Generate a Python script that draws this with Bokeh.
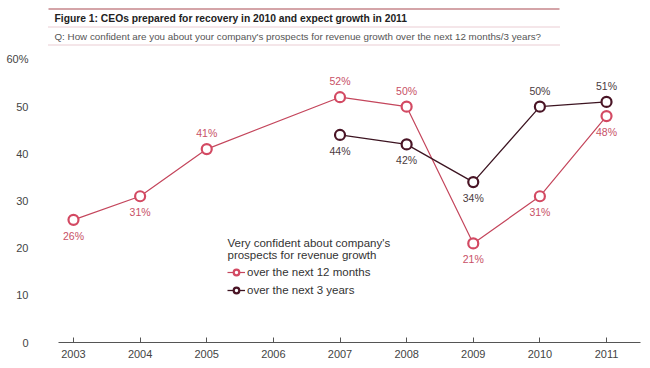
from bokeh.plotting import figure
from bokeh.models import (Range1d, FixedTicker, ColumnDataSource, Legend, LegendItem, Label)
from bokeh.core.properties import value
from bokeh.embed import file_html
from bokeh.resources import INLINE

# ---- data ----
title_text = "Figure 1: CEOs prepared for recovery in 2010 and expect growth in 2011"
question_text = "Q: How confident are you about your company's prospects for revenue growth over the next 12 months/3 years?"
legend_title = ["Very confident about company's", "prospects for revenue growth"]

years_12m = [2003, 2004, 2005, 2007, 2008, 2009, 2010, 2011]
values_12m = [26, 31, 41, 52, 50, 21, 31, 48]
place_12m = ["below", "below", "above", "above", "above", "below", "below", "below"]

years_3y = [2007, 2008, 2009, 2010, 2011]
values_3y = [44, 42, 34, 50, 51]
place_3y = ["below", "below", "below", "above", "above"]

x_ticks = [2003, 2004, 2005, 2006, 2007, 2008, 2009, 2010, 2011]
y_ticks = [0, 10, 20, 30, 40, 50, 60]
y_tick_labels = {0: "0", 10: "10", 20: "20", 30: "30", 40: "40", 50: "50", 60: "60%"}

series_names = ["over the next 12 months", "over the next 3 years"]

# ---- styles ----
FONT = "Liberation Sans"
C12_LINE = "#c4465c"
C12_MARK = "#d34a63"
C12_TEXT = "#c85066"
C3_LINE = "#3d1522"
C3_MARK = "#4a1526"
C3_TEXT = "#4a3a40"
AXIS_C = "#555555"
TXT_C = "#444444"

W, H = 650, 368
BL, BR, BT, BB = 46, 10, 0, 26
FRAME_L, FRAME_R, FRAME_B = BL, W - BR, H - BB

p = figure(width=W, height=H, x_range=Range1d(2002.595, 2011.51), y_range=Range1d(0, 72.5),
           output_backend="svg", toolbar_location=None,
           min_border_left=BL, min_border_right=BR, min_border_top=BT, min_border_bottom=BB,
           outline_line_color=None)
p.grid.visible = False

# pixel-aligned ranges for the header block
p.extra_x_ranges = {"px": Range1d(FRAME_L, FRAME_R)}
p.extra_y_ranges = {"py": Range1d(FRAME_B, 0)}

p.xaxis.ticker = FixedTicker(ticks=x_ticks)
p.xaxis.bounds = (2002.775, 2011.51)
p.xaxis.axis_line_color = AXIS_C
p.xaxis.major_tick_line_color = AXIS_C
p.xaxis.major_tick_in = 5
p.xaxis.major_tick_out = 0
p.xaxis.minor_tick_line_color = None
p.xaxis.major_label_standoff = 7
p.xaxis.major_label_text_font = FONT
p.xaxis.major_label_text_font_size = "11px"
p.xaxis.major_label_text_color = TXT_C

p.yaxis.ticker = FixedTicker(ticks=y_ticks)
p.yaxis.major_label_overrides = y_tick_labels
p.yaxis.axis_line_color = None
p.yaxis.major_tick_line_color = None
p.yaxis.minor_tick_line_color = None
p.yaxis.major_tick_in = 0
p.yaxis.major_tick_out = 0
p.yaxis.major_label_standoff = 18
p.yaxis.major_label_text_font = FONT
p.yaxis.major_label_text_font_size = "11px"
p.yaxis.major_label_text_color = TXT_C

# ---- header block ----
hdr = dict(x_range_name="px", y_range_name="py")
p.line([48, 559], [8.5, 8.5], line_color="#d4a4a8", line_width=2, **hdr)
p.text([54], [17.5], text=[title_text], text_font=value(FONT), text_font_style="bold",
       text_font_size="10.3px", text_color="#222222", text_baseline="middle",
       text_align="left", **hdr)
p.line([48, 559], [26.5, 26.5], line_color="#d49aa6", line_width=1, line_dash="1 1", **hdr)
p.text([54], [35.5], text=[question_text], text_font=value(FONT),
       text_font_size="9.8px", text_color="#555555", text_baseline="middle",
       text_align="left", **hdr)
p.line([48, 559], [44.5, 44.5], line_color="#d49aa6", line_width=1, line_dash="1 1", **hdr)

# ---- series ----
def offsets(places):
    return [-16 if pl == "above" else 16 for pl in places]

src12 = ColumnDataSource(dict(x=years_12m, y=values_12m,
                              lab=[f"{v}%" for v in values_12m], off=offsets(place_12m)))
src3 = ColumnDataSource(dict(x=years_3y, y=values_3y,
                             lab=[f"{v}%" for v in values_3y], off=offsets(place_3y)))

l12 = p.line("x", "y", source=src12, line_color=C12_LINE, line_width=1.2)
m12 = p.scatter("x", "y", source=src12, size=10, fill_color="white",
                line_color=C12_MARK, line_width=2.2)
l3 = p.line("x", "y", source=src3, line_color=C3_LINE, line_width=1.3)
m3 = p.scatter("x", "y", source=src3, size=10, fill_color="white",
               line_color=C3_MARK, line_width=2.2)

p.text("x", "y", text="lab", source=src12, y_offset="off", text_font=value(FONT),
       text_font_size="10.5px", text_color=C12_TEXT, text_align="center", text_baseline="middle")
p.text("x", "y", text="lab", source=src3, y_offset="off", text_font=value(FONT),
       text_font_size="10.5px", text_color=C3_TEXT, text_align="center", text_baseline="middle")

legend = Legend(items=[LegendItem(label=series_names[0], renderers=[l12, m12]),
                       LegendItem(label=series_names[1], renderers=[l3, m3])],
                location=(181, 45), border_line_color=None, background_fill_alpha=0,
                padding=0, margin=0, spacing=4, glyph_width=18, glyph_height=14,
                label_height=14, label_standoff=2,
                label_text_font=FONT, label_text_font_size="11.5px", label_text_color="#333333")
p.add_layout(legend)

for i, t in enumerate(legend_title):
    p.add_layout(Label(x=181, y=100 - 12 * i, x_units="screen", y_units="screen", text=t,
                       text_font=FONT, text_font_size="11.5px", text_color="#333333",
                       text_baseline="middle", text_align="left"))

open("out.html", "w").write(file_html(p, INLINE))
